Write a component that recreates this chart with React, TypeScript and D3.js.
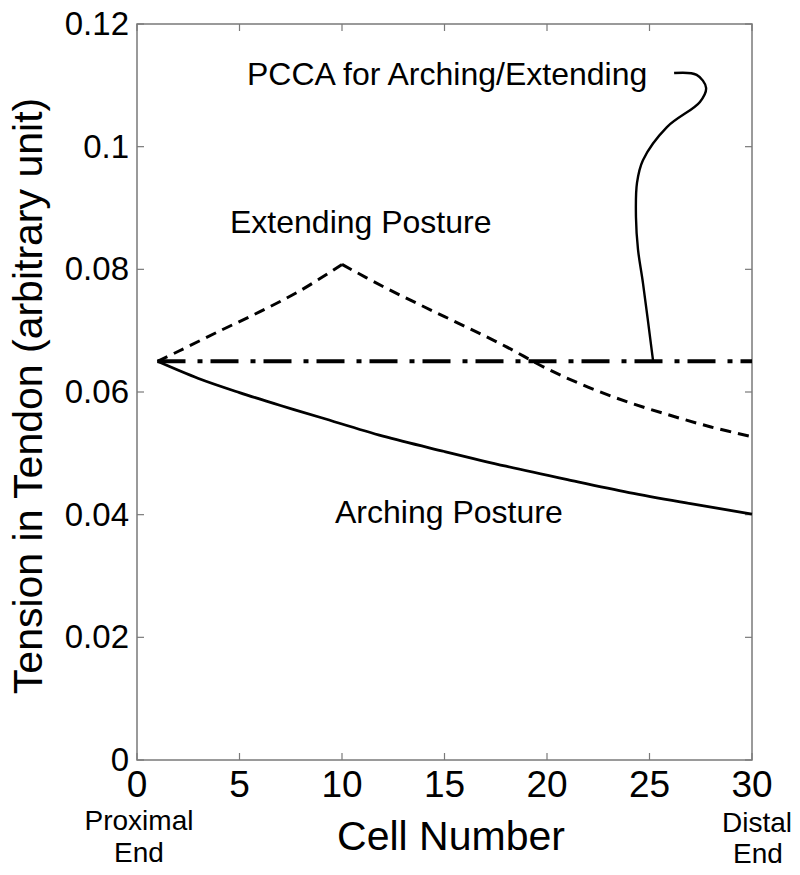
import React from "react";
import * as d3 from "d3";

// cell numbers and tension values
const archingCells = [1, 3, 5, 7, 9, 12, 15, 18, 21, 24, 27, 30];
const archingTension = [0.065, 0.0622, 0.0599, 0.0578, 0.0558, 0.0528, 0.0503, 0.0479, 0.0457, 0.0436, 0.0418, 0.0401];

const extendingCells = [1, 2, 4, 6, 8, 10, 12, 14, 16, 18, 20, 22, 24, 26, 28, 30];
const extendingTension = [0.065, 0.0666, 0.0699, 0.0731, 0.0766, 0.0808, 0.0772, 0.0739, 0.0707, 0.0674, 0.0638, 0.0608, 0.0583, 0.0562, 0.0543, 0.0527];

const pccaCells = [1, 30];
const pccaTension = [0.065, 0.065];

// pointer from the PCCA label down to the dash-dot line (data units)
const pointerX = [26.2, 27.3, 27.76, 27.46, 25.85, 24.68, 24.39, 24.34, 24.44, 24.68, 25.17];
const pointerY = [0.112, 0.1117, 0.1096, 0.1073, 0.1032, 0.0978, 0.0941, 0.0885, 0.0832, 0.0778, 0.0652];

const xTicks = [0, 5, 10, 15, 20, 25, 30];
const yTicks = [0, 0.02, 0.04, 0.06, 0.08, 0.1, 0.12];
const yTickLabels = ["0", "0.02", "0.04", "0.06", "0.08", "0.1", "0.12"];

const W = 800;
const H = 875;
const MARGIN = { TOP: 24, BOTTOM: 115, LEFT: 137, RIGHT: 48 };
const FONT = "'Liberation Sans', Arial, Helvetica, sans-serif";

const App = () => {
  const x = d3.scaleLinear().domain([0, 30]).range([MARGIN.LEFT, W - MARGIN.RIGHT]);
  const y = d3.scaleLinear().domain([0, 0.12]).range([H - MARGIN.BOTTOM, MARGIN.TOP]);
  const [x0, x1] = x.range();
  const [y0, y1] = y.range();

  const line = d3
    .line<[number, number]>()
    .x((d) => x(d[0]))
    .y((d) => y(d[1]))
    .curve(d3.curveCatmullRom);

  const arching = line(archingCells.map((c, i) => [c, archingTension[i]]));
  const extendingUp = line(
    extendingCells.slice(0, 6).map((c, i) => [c, extendingTension[i]])
  );
  const extendingDown = line(
    extendingCells.slice(5).map((c, i) => [c, extendingTension[i + 5]])
  );
  const pcca = d3
    .line<[number, number]>()
    .x((d) => x(d[0]))
    .y((d) => y(d[1]))(pccaCells.map((c, i) => [c, pccaTension[i]]));
  const pointer = line(pointerX.map((v, i) => [v, pointerY[i]]));

  const axisColor = "#7a7a7a";
  const tickLen = 7;

  return (
    <svg
      width={W}
      height={H}
      style={{ position: "absolute", left: 0, top: 0, background: "#fff" }}
      fontFamily={FONT}
    >
      <rect x={0} y={0} width={W} height={H} fill="#fff" />
      {/* frame */}
      <rect x={x0} y={y1} width={x1 - x0} height={y0 - y1} fill="none" stroke={axisColor} strokeWidth={1.5} />

      {/* ticks */}
      {xTicks.map((t) => (
        <g key={"xt" + t}>
          <line x1={x(t)} x2={x(t)} y1={y0} y2={y0 - tickLen} stroke={axisColor} strokeWidth={1.2} />
          <line x1={x(t)} x2={x(t)} y1={y1} y2={y1 + tickLen} stroke={axisColor} strokeWidth={1.2} />
          <text x={x(t)} y={y0 + 37} textAnchor="middle" fontSize={37} fill="#000">
            {t}
          </text>
        </g>
      ))}
      {yTicks.map((t, i) => (
        <g key={"yt" + t}>
          <line x1={x0} x2={x0 + tickLen} y1={y(t)} y2={y(t)} stroke={axisColor} strokeWidth={1.2} />
          <line x1={x1} x2={x1 - tickLen} y1={y(t)} y2={y(t)} stroke={axisColor} strokeWidth={1.2} />
          <text x={x0 - 8} y={y(t) + 11} textAnchor="end" fontSize={33} fill="#000">
            {yTickLabels[i]}
          </text>
        </g>
      ))}

      {/* series */}
      <path d={pcca ?? ""} fill="none" stroke="#000" strokeWidth={4} strokeDasharray="28 12 5 8" />
      <path d={arching ?? ""} fill="none" stroke="#000" strokeWidth={2.8} />
      <path d={extendingUp ?? ""} fill="none" stroke="#000" strokeWidth={3} strokeDasharray="11 7" />
      <path d={extendingDown ?? ""} fill="none" stroke="#000" strokeWidth={3} strokeDasharray="11 7" />
      <path d={pointer ?? ""} fill="none" stroke="#000" strokeWidth={2.4} />

      {/* annotations */}
      <text x={247} y={85} fontSize={32} fill="#000">PCCA for Arching/Extending</text>
      <text x={230} y={233} fontSize={32} fill="#000">Extending Posture</text>
      <text x={335} y={523} fontSize={32} fill="#000">Arching Posture</text>

      {/* axis titles */}
      <text x={451} y={850} textAnchor="middle" fontSize={41} fill="#000">Cell Number</text>
      <text
        transform={`translate(42, ${(y0 + y1) / 2 + 4}) rotate(-90)`}
        textAnchor="middle"
        fontSize={41}
        fill="#000"
      >
        Tension in Tendon (arbitrary unit)
      </text>
      <text x={139} y={830} textAnchor="middle" fontSize={28} fill="#000">Proximal</text>
      <text x={139} y={862} textAnchor="middle" fontSize={28} fill="#000">End</text>
      <text x={757} y={832} textAnchor="middle" fontSize={28} fill="#000">Distal</text>
      <text x={758} y={863} textAnchor="middle" fontSize={28} fill="#000">End</text>
    </svg>
  );
};

export default App;
